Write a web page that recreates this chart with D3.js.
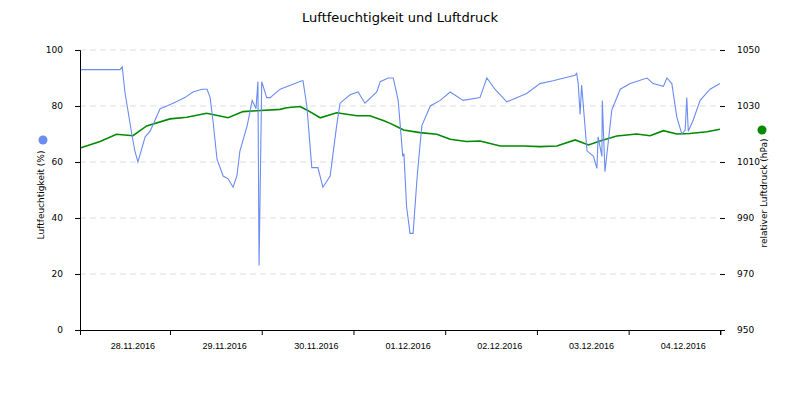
<!DOCTYPE html>
<html><head><meta charset="utf-8">
<script src="https://cdn.jsdelivr.net/npm/d3@7"></script>
<style>body{margin:0;background:#fff;font-family:"DejaVu Sans",sans-serif}</style>
</head><body><div id="chart"></div>
<script>
// hours since 28.11.2016 00:00
const humHours = [0.7,10.9,11.5,12.2,14.0,14.8,15.6,17.5,18.8,20.1,21.4,23.2,24.8,27.9,30.0,32.4,33.7,34.5,35.3,36.3,37.9,39.2,40.5,41.5,42.3,44.2,45.5,46.2,46.5,47.0,47.3,48.0,49.3,50.2,52.8,58.5,58.8,59.8,61.1,62.7,64.0,65.9,67.6,68.5,71.1,73.2,75.0,78.1,79.0,81.1,82.4,82.9,83.7,84.9,85.2,85.9,86.8,87.6,88.6,89.2,89.9,92.1,94.7,97.3,100.7,105.1,106.9,109.0,112.1,113.0,117.3,120.8,124.2,130.0,130.4,130.8,131.3,131.7,133.1,134.8,135.7,136.0,137.0,137.1,137.8,139.6,141.8,144.4,148.8,150.4,153.1,154.0,155.3,156.6,157.9,158.8,159.2,159.6,160.9,162.7,165.3,167.9];
const humValues = [93,93,94,85,70,64,60,69,71,75,79,80,81,83,85,86,86,83,74,61,55,54,51,55,64,73,82,80,79,88.7,23,88.7,83,83,86,89,89,80,58,58,51,55,73,81,84,85,81,85,88.7,90,90,87,82,62,63,44,34.5,34.5,53.6,63,73,80,82,85,82,83,90,86,81.5,82,84.5,88,89,91,91.7,88,77,87.5,64,62,57.7,69,62,82,56.5,78.6,86,88,90,88,87,90,88,76,70,71.4,83,71,75,82,86,88,89];
const presHours = [0.7,5.7,10.0,14.3,17.9,24.0,28.4,33.6,39.2,43.1,46.7,52.8,54.5,58.0,59.8,63.3,67.6,72.9,76.3,79.8,81.6,83.7,85.1,89.4,93.8,97.3,101.6,105.1,110.4,116.5,120.8,125.2,130.0,133.5,136.5,140.9,146.1,149.6,153.1,156.6,160.0,164.5,167.9];
const presValues = [1015.1,1017.3,1019.9,1019.4,1022.9,1025.4,1026,1027.4,1025.8,1028,1028.3,1028.8,1029.4,1029.8,1028.6,1025.8,1027.6,1026.5,1026.5,1024.8,1023.8,1022.4,1021.4,1020.5,1019.9,1018.1,1017.3,1017.5,1015.7,1015.7,1015.5,1015.7,1017.9,1016.1,1017.5,1019.3,1020,1019.4,1021.2,1020,1020.2,1020.8,1021.7];
const dayTicks = [24,48,72,96,120,144,168];
const dayLabels = ["28.11.2016","29.11.2016","30.11.2016","01.12.2016","02.12.2016","03.12.2016","04.12.2016"];

const width = 800, height = 400;
const margin = {top:50, right:80, bottom:70, left:80};

const svg = d3.select('#chart').append('svg').attr('width', width).attr('height', height);

const x = d3.scaleLinear().domain([0.45,167.9]).range([margin.left, width - margin.right]);
const yL = d3.scaleLinear().domain([0,100]).range([height - margin.bottom, margin.top]);
const yR = d3.scaleLinear().domain([950,1050]).range([height - margin.bottom, margin.top]);

// grid
svg.append('g').selectAll('line').data([20,40,60,80,100]).join('line')
  .attr('x1', margin.left).attr('x2', width - margin.right)
  .attr('y1', d => yL(d)).attr('y2', d => yL(d))
  .attr('stroke', '#ddd').attr('stroke-dasharray', '6,4');

const styleAxis = g => {
  g.selectAll('path,line').attr('stroke', '#000');
  g.selectAll('text').attr('font-size', 9).attr('font-family', 'DejaVu Sans').attr('fill', '#000');
};

svg.append('g').attr('transform', `translate(${margin.left},0)`)
  .call(d3.axisLeft(yL).tickValues([0,20,40,60,80,100]).tickSizeOuter(0).tickSize(5).tickPadding(12))
  .call(styleAxis);
svg.append('g').attr('transform', `translate(${width - margin.right},0)`)
  .call(d3.axisRight(yR).tickValues([950,970,990,1010,1030,1050]).tickFormat(d3.format('d')).tickSizeOuter(0).tickSize(5).tickPadding(12))
  .call(g => g.select('.domain').remove())
  .call(styleAxis);
const xg = svg.append('g').attr('transform', `translate(0,${height - margin.bottom})`)
  .call(d3.axisBottom(x).tickValues(dayTicks).tickFormat('').tickSizeOuter(0).tickSize(5))
  .call(styleAxis);
xg.selectAll('.lbl').data(dayLabels).join('text').attr('class','lbl')
  .attr('x', (d,i) => x(i*24 + 14.3)).attr('y', 19).attr('text-anchor','middle')
  .attr('font-size', 9).attr('fill', '#000').text(d => d);

// lines
const humData = humHours.map((h,i) => [h, humValues[i]]);
const presData = presHours.map((h,i) => [h, presValues[i]]);
svg.append('path').datum(presData).attr('fill','none').attr('stroke','#008a00').attr('stroke-width',1.6)
  .attr('d', d3.line().x(d => x(d[0])).y(d => yR(d[1])));
svg.append('path').datum(humData).attr('fill','none').attr('stroke','#6b8cf0').attr('stroke-width',1.1)
  .attr('d', d3.line().x(d => x(d[0])).y(d => yL(d[1])));

// titles
svg.append('text').attr('x', width/2).attr('y', 22).attr('text-anchor','middle')
  .attr('font-size', 13).text('Luftfeuchtigkeit und Luftdruck');
svg.append('circle').attr('cx', 43).attr('cy', 140).attr('r', 4.5).attr('fill', '#6b8cf0');
svg.append('text').attr('transform','translate(44,195) rotate(-90)').attr('text-anchor','middle')
  .attr('font-size', 9).text('Luftfeuchtigkeit (%)');
svg.append('circle').attr('cx', 762).attr('cy', 130).attr('r', 4.5).attr('fill', '#008a00');
svg.append('text').attr('transform','translate(767,193) rotate(-90)').attr('text-anchor','middle')
  .attr('font-size', 9).text('relativer Luftdruck (hPa)');
</script></body></html>
